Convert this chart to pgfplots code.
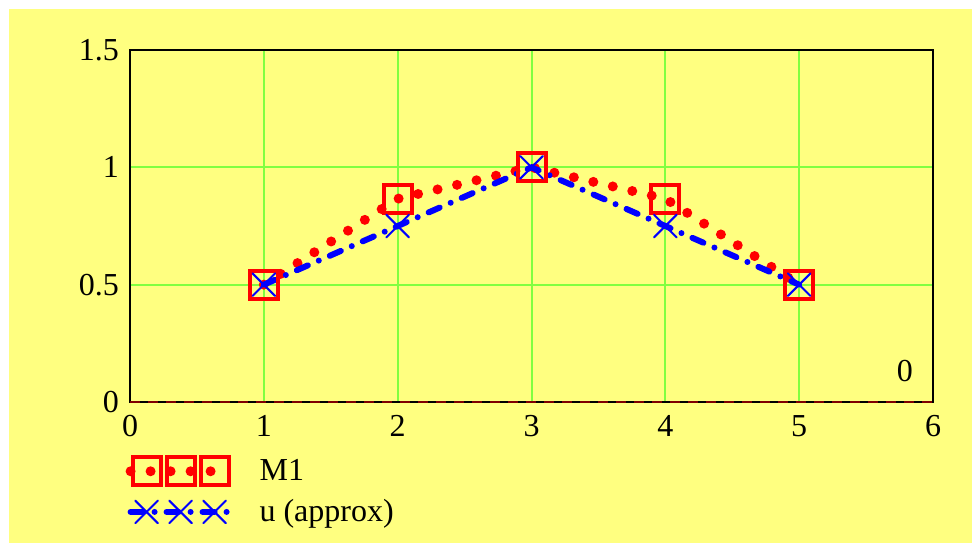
\documentclass[border=0pt]{standalone}
\usepackage{fontspec}
\setmainfont{Liberation Serif}
\usepackage{pgfplots}
\pgfplotsset{compat=1.18}
\definecolor{bg}{RGB}{255,255,128}
\definecolor{gridgreen}{RGB}{128,255,64}
\definecolor{dred}{RGB}{128,0,0}
\begin{document}
\begin{tikzpicture}[x=1pt,y=1pt]
\useasboundingbox (0pt,0pt) rectangle (486pt,271.5pt);
\fill[white] (0pt,0pt) rectangle (486pt,271.5pt);
\fill[bg] (4.5pt,0pt) rectangle (486pt,267pt);
\begin{axis}[
    at={(65pt,70.5pt)}, anchor=origin,
    width=401.5pt, height=176pt, scale only axis,
    xmin=0, xmax=6, ymin=0, ymax=1.5,
    xtick={0,1,2,3,4,5,6}, ytick={0,0.5,1,1.5},
    grid=major, grid style={gridgreen, line width=1pt},
    axis line style={black, line width=1.2pt},
    major tick style={draw=none},
    tick label style={font=\rmfamily\fontsize{16}{18}\selectfont},
    /pgf/number format/assume math mode=true,
    xticklabel style={yshift=-3pt},
    yticklabel style={xshift=-2pt},
    clip=false,
    legend cell align=left,
    legend style={draw=none, fill=none, at={(axis description cs:-0.006,-0.15)},
        anchor=north west, inner sep=0pt, row sep=4pt,
        font=\rmfamily\fontsize{16}{18}\selectfont,
        /tikz/every even column/.append style={column sep=0pt}},
    legend image code/.code={
        \draw[#1] (0pt,0pt) -- (49pt,0pt);
        \draw[#1, only marks] plot coordinates {(8pt,0pt) (25pt,0pt) (42pt,0pt)};
    },
]
\addplot[red, line width=5pt, line cap=round, dash pattern=on 0pt off 10pt,
    mark=square, mark size=7pt,
    mark options={solid, line width=2pt, fill=none, line cap=butt}]
    coordinates {(1,0.5) (2,0.866) (3,1) (4,0.866) (5,0.5)};
\addlegendentry{\hspace{11pt}M1}
\addplot[blue, line width=3pt, line cap=round, dash pattern=on 6pt off 6pt on 0pt off 6pt,
    mark=x, mark size=8pt,
    mark options={solid, line width=1pt}]
    coordinates {(1,0.5) (2,0.75) (3,1) (4,0.75) (5,0.5)};
\addlegendentry{\hspace{11pt}u (approx)}
\addplot[dred, line width=1pt, dash pattern=on 5pt off 4pt, forget plot]
    coordinates {(0,0) (6,0)};
\node[font=\rmfamily\fontsize{16}{18}\selectfont] at (axis cs:5.79,0.13) {0};
\end{axis}
\end{tikzpicture}
\end{document}
